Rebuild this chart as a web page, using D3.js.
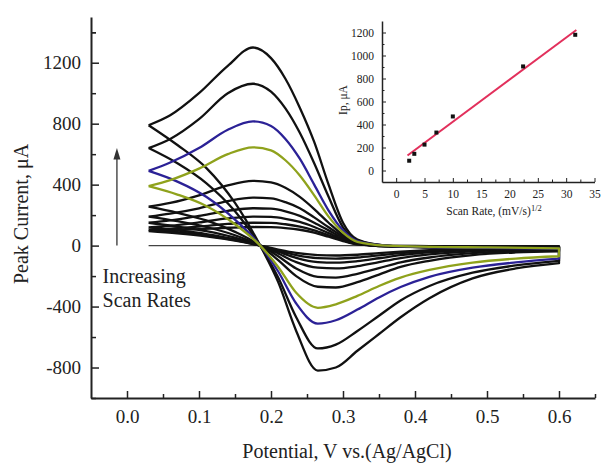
<!DOCTYPE html>
<html>
<head>
<meta charset="utf-8">
<script src="https://cdn.jsdelivr.net/npm/d3@7"></script>
<style>
  body { margin: 0; background: #fff; }
  text { font-family: "Liberation Serif", "Times New Roman", serif; fill: #222; }
  .axis path, .axis line { stroke: #222; }
  .axis text { fill: #222; }
</style>
</head>
<body>
<script>
// ---- data ----
// potentials (V) for the anodic (upper) branch
var fwdPotential = [0.03, 0.06, 0.10, 0.14, 0.175, 0.20, 0.22, 0.24, 0.26, 0.28, 0.30, 0.32, 0.36, 0.42, 0.50, 0.60];
// potentials (V) for the cathodic (lower) branch
var revPotential = [0.03, 0.07, 0.11, 0.15, 0.185, 0.21, 0.235, 0.265, 0.29, 0.32, 0.35, 0.38, 0.42, 0.48, 0.54, 0.60];

// currents (uA), one row per scan rate, largest first
var fwdCurrent = [
  [790, 855, 1000, 1180, 1300, 1230, 1095, 905, 680, 400, 150, 40, 0, -12, -18, -25],
  [640, 700, 830, 1000, 1062, 1010, 900, 740, 540, 320, 120, 35, 0, -12, -17, -22],
  [490, 545, 640, 760, 815, 785, 700, 570, 400, 230, 100, 30, 0, -10, -15, -20],
  [390, 430, 505, 600, 645, 625, 560, 460, 330, 190, 85, 25, 0, -8, -12, -18],
  [255, 280, 330, 395, 425, 415, 380, 320, 240, 150, 70, 20, -5, -10, -12, -15],
  [190, 210, 245, 292, 315, 310, 285, 245, 185, 120, 60, 18, -5, -8, -10, -12],
  [150, 165, 195, 228, 245, 242, 225, 195, 150, 100, 50, 15, -3, -6, -8, -10],
  [120, 130, 152, 178, 190, 188, 176, 155, 122, 82, 42, 12, -3, -5, -7, -8],
  [105, 112, 125, 142, 150, 149, 140, 125, 100, 68, 35, 10, -2, -4, -5, -6],
  [95, 100, 108, 117, 122, 121, 115, 104, 85, 58, 30, 8, -2, -3, -4, -5]
];
var revCurrent = [
  [790, 660, 510, 280, 0, -240, -560, -820, -800, -690, -580, -470, -345, -215, -150, -115],
  [640, 540, 410, 225, 0, -210, -470, -675, -650, -560, -460, -360, -265, -178, -130, -100],
  [490, 420, 320, 170, 0, -170, -380, -512, -490, -420, -340, -272, -205, -145, -110, -85],
  [390, 335, 260, 140, 0, -140, -310, -408, -385, -330, -265, -210, -160, -112, -85, -70],
  [255, 215, 165, 90, 0, -95, -200, -270, -275, -240, -190, -140, -100, -62, -45, -38],
  [190, 160, 122, 68, 0, -70, -150, -205, -210, -185, -148, -110, -78, -50, -37, -32],
  [150, 125, 95, 52, 0, -52, -108, -145, -150, -135, -108, -82, -58, -38, -29, -25],
  [120, 100, 76, 42, 0, -40, -80, -108, -112, -102, -83, -63, -45, -30, -23, -20],
  [105, 88, 66, 36, 0, -32, -62, -82, -85, -78, -64, -50, -36, -25, -19, -17],
  [95, 80, 60, 32, 0, -26, -48, -62, -65, -60, -50, -40, -30, -21, -16, -14]
];
var curveColors = ["#111", "#111", "#2b2196", "#8fa21c", "#111", "#111", "#111", "#111", "#111", "#111"];

// inset: peak current vs square root of scan rate
var sqrtScanRate = [2.3, 3.2, 5.0, 7.1, 10.0, 22.4, 31.6];
var peakCurrent = [85, 145, 225, 330, 470, 905, 1180];
var fitX = [2.0, 31.8];
var fitY = [130, 1222];

var xTicks = [0.0, 0.1, 0.2, 0.3, 0.4, 0.5, 0.6];
var yTicks = [-800, -400, 0, 400, 800, 1200];
var insetXTicks = [0, 5, 10, 15, 20, 25, 30, 35];
var insetYTicks = [0, 200, 400, 600, 800, 1000, 1200];

// ---- chart ----
var svgWidth = 601;
var svgHeight = 470;

var svg = d3.select("body")
  .append("svg")
  .attr("width", svgWidth)
  .attr("height", svgHeight);

var x = d3.scaleLinear().domain([-0.05, 0.65]).range([91, 595]);
var y = d3.scaleLinear().domain([-1000, 1500]).range([398, 17]);

// plain labels: no thousands comma, ascii minus
var plain = d => String(d);

// minor ticks first, then major ticks with labels
svg.append("g")
  .attr("class", "axis minor")
  .attr("transform", "translate(0, 398)")
  .call(d3.axisBottom(x).tickValues(d3.range(1, 14, 2).map(d => d * 0.05)).tickSize(-4).tickFormat(""))
  .call(g => g.select(".domain").remove());

svg.append("g")
  .attr("class", "axis minor")
  .attr("transform", "translate(91, 0)")
  .call(d3.axisLeft(y).tickValues(d3.range(-1000, 1500, 400).concat([1400])).tickSize(-5).tickFormat(""))
  .call(g => g.select(".domain").remove());

var xAxis = svg.append("g")
  .attr("class", "axis")
  .attr("transform", "translate(0, 398)")
  .call(d3.axisBottom(x).tickValues(xTicks).tickSizeInner(-7).tickSizeOuter(0).tickPadding(12)
    .tickFormat(d3.format(".1f")));

var yAxis = svg.append("g")
  .attr("class", "axis")
  .attr("transform", "translate(91, 0)")
  .call(d3.axisLeft(y).tickValues(yTicks).tickSizeInner(-8).tickSizeOuter(0).tickPadding(10).tickFormat(plain));

[xAxis, yAxis].forEach(function (a) {
  a.select(".domain").attr("stroke-width", 2);
  a.selectAll("line").attr("stroke-width", 1.5);
  a.selectAll("text").attr("font-size", 19).attr("font-family", "Liberation Serif");
});
svg.selectAll(".minor line").attr("stroke-width", 1.5);

// axis titles
svg.append("text")
  .attr("x", 347)
  .attr("y", 458)
  .attr("text-anchor", "middle")
  .attr("font-size", 20)
  .text("Potential, V vs.(Ag/AgCl)");

svg.append("text")
  .attr("transform", "translate(28, 214) rotate(-90)")
  .attr("text-anchor", "middle")
  .attr("font-size", 20)
  .text("Peak Current, \u03bcA");

// zero line
svg.append("line")
  .attr("x1", x(0.03)).attr("x2", x(0.6))
  .attr("y1", y(0)).attr("y2", y(0))
  .attr("stroke", "#444")
  .attr("stroke-width", 1.3);

// voltammograms
var line = d3.line()
  .x(d => x(d[0]))
  .y(d => y(d[1]))
  .curve(d3.curveMonotoneX);

var order = [0, 1, 4, 5, 6, 7, 8, 9, 2, 3];
order.forEach(function (i) {
  var fwd = fwdPotential.map((v, j) => [v, fwdCurrent[i][j]]);
  var rev = revPotential.map((v, j) => [v, revCurrent[i][j]]).reverse();
  var d = line(fwd) + line(rev).replace(/^M/, "L");
  svg.append("path")
    .attr("d", d)
    .attr("fill", "none")
    .attr("stroke", curveColors[i])
    .attr("stroke-width", 2.3)
    .attr("stroke-linejoin", "round");
});

// arrow + note
svg.append("line")
  .attr("x1", x(-0.014)).attr("x2", x(-0.014))
  .attr("y1", y(0)).attr("y2", y(600))
  .attr("stroke", "#333")
  .attr("stroke-width", 1.3);
svg.append("path")
  .attr("d", d3.line()([[x(-0.014), y(640)], [x(-0.014) - 3.5, y(565)], [x(-0.014) + 3.5, y(565)]]))
  .attr("fill", "#333");

svg.append("text")
  .attr("x", x(-0.034))
  .attr("y", y(-245))
  .attr("font-size", 20)
  .text("Increasing");
svg.append("text")
  .attr("x", x(-0.034))
  .attr("y", y(-403))
  .attr("font-size", 20)
  .text("Scan Rates");

// ---- inset ----
var ix = d3.scaleLinear().domain([-2.5, 35]).range([382, 594.5]);
var iy = d3.scaleLinear().domain([-100, 1300]).range([182, 21]);

svg.append("g")
  .attr("class", "axis iminor")
  .attr("transform", "translate(0, 182)")
  .call(d3.axisBottom(ix).tickValues(d3.range(-2.5, 35, 5).slice(1)).tickSize(-2.5).tickFormat(""))
  .call(g => g.select(".domain").remove());
svg.append("g")
  .attr("class", "axis iminor")
  .attr("transform", "translate(382, 0)")
  .call(d3.axisLeft(iy).tickValues(d3.range(100, 1300, 200)).tickSize(-2.5).tickFormat(""))
  .call(g => g.select(".domain").remove());
svg.selectAll(".iminor line").attr("stroke-width", 1);

var ixAxis = svg.append("g")
  .attr("class", "axis")
  .attr("transform", "translate(0, 182)")
  .call(d3.axisBottom(ix).tickValues(insetXTicks).tickSizeInner(-4).tickSizeOuter(0).tickPadding(8).tickFormat(plain));
var iyAxis = svg.append("g")
  .attr("class", "axis")
  .attr("transform", "translate(382, 0)")
  .call(d3.axisLeft(iy).tickValues(insetYTicks).tickSizeInner(-4).tickSizeOuter(0).tickPadding(8).tickFormat(plain));

[ixAxis, iyAxis].forEach(function (a) {
  a.select(".domain").attr("stroke-width", 1.5);
  a.selectAll("line").attr("stroke-width", 1);
  a.selectAll("text").attr("font-size", 11.5).attr("font-family", "Liberation Serif");
});

var insetTitle = svg.append("text")
  .attr("x", 494)
  .attr("y", 215)
  .attr("text-anchor", "middle")
  .attr("font-size", 11.5);
insetTitle.append("tspan").text("Scan Rate, (mV/s)");
insetTitle.append("tspan").attr("dy", -4).attr("font-size", 8.5).text("1/2");

svg.append("text")
  .attr("transform", "translate(347, 100) rotate(-90)")
  .attr("text-anchor", "middle")
  .attr("font-size", 11.5)
  .text("Ip, \u03bcA");

// fit line
svg.append("path")
  .attr("d", d3.line().x(d => ix(d[0])).y(d => iy(d[1]))(fitX.map((v, i) => [v, fitY[i]])))
  .attr("stroke", "#e2305c")
  .attr("stroke-width", 2);

// points
svg.selectAll(".pt")
  .data(sqrtScanRate.map((v, i) => [v, peakCurrent[i]]))
  .enter()
  .append("rect")
  .attr("class", "pt")
  .attr("x", d => ix(d[0]) - 2)
  .attr("y", d => iy(d[1]) - 2)
  .attr("width", 4)
  .attr("height", 4)
  .attr("fill", "#111");
</script>
</body>
</html>
